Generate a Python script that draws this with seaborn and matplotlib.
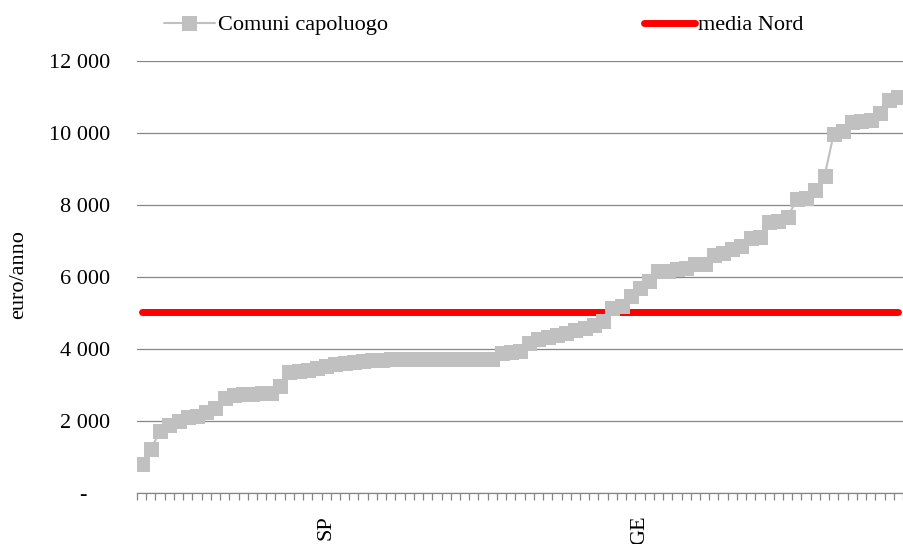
import numpy as np
import pandas as pd
import matplotlib
matplotlib.use("Agg")
import matplotlib.pyplot as plt
import seaborn as sns

# spesa per comune capoluogo (euro/anno), ordinata
comuni = [
    800, 1230, 1710, 1890, 2000, 2120, 2130, 2240, 2370, 2640,
    2710, 2740, 2755, 2765, 2780, 2970, 3360, 3390, 3430, 3480,
    3520, 3590, 3615, 3645, 3665, 3685, 3705, 3710, 3712, 3714,
    3716, 3718, 3720, 3720, 3722, 3724, 3726, 3728, 3732, 3900,
    3930, 3945, 4170, 4265, 4330, 4385, 4450, 4515, 4590, 4680,
    4775, 5145, 5190, 5470, 5700, 5900, 6165, 6180, 6210, 6255,
    6350, 6365, 6625, 6655, 6790, 6855, 7090, 7115, 7525, 7555,
    7665, 8155, 8200, 8430, 8805, 9985, 10055, 10310, 10330, 10375,
    10560, 10905, 11000,
]
media_nord = 5020

labels = [""] * len(comuni)
labels[20] = "SP"
labels[54] = "GE"

yticks = [0, 2000, 4000, 6000, 8000, 10000, 12000]
ytick_labels = ["-    ", "2 000", "4 000", "6 000", "8 000", "10 000", "12 000"]

df = pd.DataFrame({"pos": np.arange(len(comuni)), "comuni": comuni,
                   "media": [media_nord] * len(comuni)})

sns.set_style("white")
plt.rcParams["font.family"] = ["Liberation Serif", "DejaVu Serif"]
plt.rcParams["font.size"] = 16
plt.rcParams["text.color"] = "black"
plt.rcParams["xtick.color"] = "black"
plt.rcParams["ytick.color"] = "black"

grey = "#868686"

fig = plt.figure(figsize=(9.04, 5.44), dpi=100)
ax = fig.add_axes([137 / 904, 51 / 544, 766 / 904, 432 / 544])

sns.lineplot(data=df, x="pos", y="media", color="#FF0000", linewidth=5,
             solid_capstyle="round", label="media Nord", ax=ax, zorder=2)
sns.lineplot(data=df, x="pos", y="comuni", color="#C0C0C0", linewidth=1.5,
             marker="s", markersize=10.8, markeredgewidth=0,
             label="Comuni capoluogo", ax=ax, zorder=3)

ax.set_xlim(-0.5, len(comuni) - 0.5)
ax.set_ylim(0, 12000)

# assi
ax.set_yticks(yticks)
ax.set_yticklabels(ytick_labels)
ax.tick_params(axis="y", left=False, length=0, pad=19.5, labelsize=16, labelcolor="black")
ax.grid(axis="y", color=grey, linewidth=0.9)
ax.grid(axis="x", visible=False)

ax.set_xticks(np.arange(-0.5, len(comuni)))
ax.set_xticks(df["pos"], labels=labels, minor=True)
ax.tick_params(axis="x", which="major", bottom=True, labelbottom=False,
               length=5, width=0.9, color=grey, direction="out")
ax.tick_params(axis="x", which="minor", bottom=True, length=0, pad=16,
               labelsize=16, labelrotation=90, labelcolor="black")

for s in ["top", "right", "left"]:
    ax.spines[s].set_visible(False)
ax.spines["bottom"].set_color(grey)
ax.spines["bottom"].set_linewidth(0.9)

ax.set_xlabel("")
ax.set_ylabel("")
fig.text(19 / 904, 1 - 275 / 544, "euro/anno", rotation=90, ha="center", va="center",
         fontsize=16, color="black")

h, l = ax.get_legend_handles_labels()
ax.legend(h[::-1], l[::-1], ncol=2, loc="center", bbox_to_anchor=(0.535, 0.954),
          bbox_transform=fig.transFigure, frameon=False, fontsize=16,
          handlelength=2.3, handletextpad=0.15, columnspacing=11.5)

fig.savefig("out.png", dpi=100)
